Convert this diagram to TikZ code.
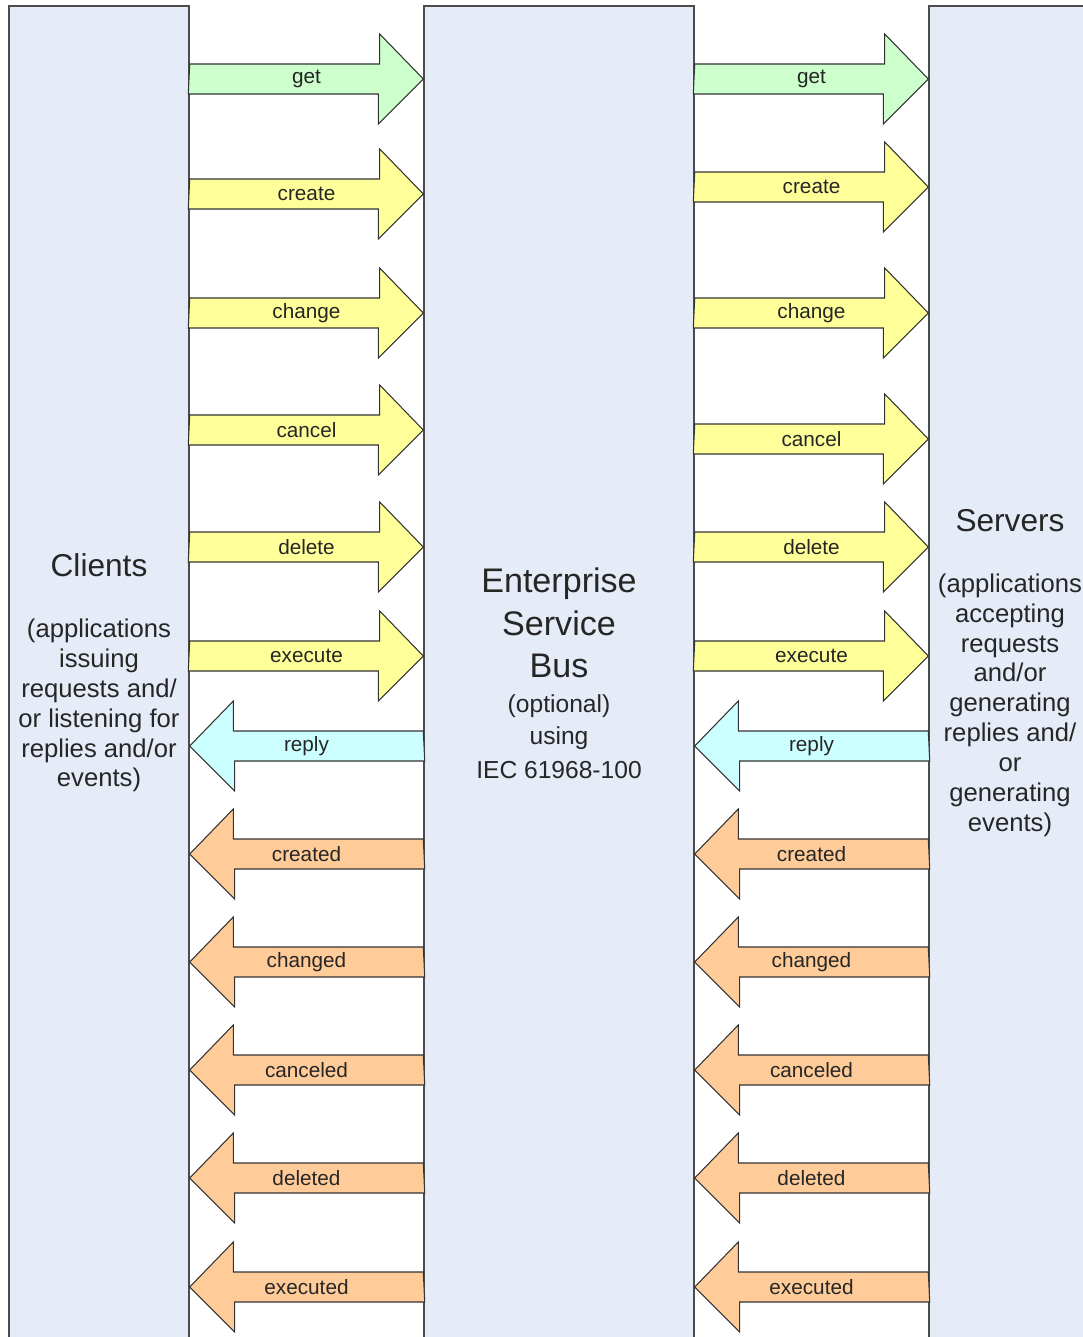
\documentclass[tikz,border=0pt]{standalone}
\usepackage{fontspec}
\setmainfont{Liberation Sans}
\definecolor{barblue}{RGB}{229,236,247}
\definecolor{getgreen}{HTML}{CCFFCC}
\definecolor{reqyellow}{HTML}{FFFF99}
\definecolor{replycyan}{HTML}{CCFFFF}
\definecolor{evtorange}{HTML}{FFCC99}
\tikzset{
barnode/.style={rectangle, draw=black!70, fill=barblue, line width=0.8pt, inner sep=0pt, minimum height=26.68cm, align=center, text=black!85},
blockarrow/.style={draw=black!80, line width=0.6pt, line join=miter},
arrowlabel/.style={inner sep=0pt, text=black!85, font=\fontsize{11.8}{13}\selectfont},
}

\begin{document}
\begin{tikzpicture}
\useasboundingbox (0,0) rectangle (21.66,-26.74);
\node[barnode, minimum width=3.6cm, font=\fontsize{14.6}{17}\selectfont] at (1.98,-13.46) (clients)
  {{\fontsize{18}{21}\selectfont Clients}\\[0.62cm]
   (applications\\issuing\\requests and/\\or listening for\\replies and/or\\events)};
\node[barnode, minimum width=5.4cm, font=\fontsize{14}{18}\selectfont] at (11.18,-13.46) (esb)
  {{\fontsize{19.4}{24}\selectfont Enterprise}\\[5.8pt]
   {\fontsize{19.4}{24}\selectfont Service}\\[5.8pt]
   {\fontsize{19.4}{24}\selectfont Bus}\\[2pt]
   (optional)\\using\\[1.3pt]IEC 61968-100};
\node[barnode, minimum width=3.24cm, font=\fontsize{14.6}{17}\selectfont] at (20.2,-13.46) (servers)
  {{\fontsize{18}{21}\selectfont Servers}\\[0.62cm]
   (applications\\accepting\\requests\\and/or\\generating\\replies and/\\or\\generating\\events)};

% requests: clients -> bus
\foreach \y/\c/\t in {-1.58/getgreen/get, -3.88/reqyellow/create, -6.26/reqyellow/change,
  -8.60/reqyellow/cancel, -10.94/reqyellow/delete, -13.12/reqyellow/execute}{
  \coordinate (s) at (clients.east |- 0,\y);
  \coordinate (t) at (esb.west |- 0,\y);
  \draw[blockarrow, fill=\c] (s) ++(0,.3) -- ++(3.8,0) -- ++(0,.6) -- (t) -- ++(-.9,-.9) -- ++(0,.6) -- ++(-3.8,0) -- cycle;
  \path (s) -- node[arrowlabel]{\t} (t);
}
% replies and events: bus -> clients
\foreach \y/\c/\t in {-14.92/replycyan/reply, -17.08/evtorange/created, -19.24/evtorange/changed,
  -21.40/evtorange/canceled, -23.56/evtorange/deleted, -25.74/evtorange/executed}{
  \coordinate (s) at (esb.west |- 0,\y);
  \coordinate (t) at (clients.east |- 0,\y);
  \draw[blockarrow, fill=\c] (s) ++(0,.3) -- ++(-3.8,0) -- ++(0,.6) -- (t) -- ++(.9,-.9) -- ++(0,.6) -- ++(3.8,0) -- cycle;
  \path (s) -- node[arrowlabel]{\t} (t);
}

% requests: bus -> servers
\foreach \y/\c/\t in {-1.58/getgreen/get, -3.74/reqyellow/create, -6.26/reqyellow/change,
  -8.78/reqyellow/cancel, -10.94/reqyellow/delete, -13.12/reqyellow/execute}{
  \coordinate (s) at (esb.east |- 0,\y);
  \coordinate (t) at (servers.west |- 0,\y);
  \draw[blockarrow, fill=\c] (s) ++(0,.3) -- ++(3.8,0) -- ++(0,.6) -- (t) -- ++(-.9,-.9) -- ++(0,.6) -- ++(-3.8,0) -- cycle;
  \path (s) -- node[arrowlabel]{\t} (t);
}
% replies and events: servers -> bus
\foreach \y/\c/\t in {-14.92/replycyan/reply, -17.08/evtorange/created, -19.24/evtorange/changed,
  -21.40/evtorange/canceled, -23.56/evtorange/deleted, -25.74/evtorange/executed}{
  \coordinate (s) at (servers.west |- 0,\y);
  \coordinate (t) at (esb.east |- 0,\y);
  \draw[blockarrow, fill=\c] (s) ++(0,.3) -- ++(-3.8,0) -- ++(0,.6) -- (t) -- ++(.9,-.9) -- ++(0,.6) -- ++(3.8,0) -- cycle;
  \path (s) -- node[arrowlabel]{\t} (t);
}
\end{tikzpicture}
\end{document}
